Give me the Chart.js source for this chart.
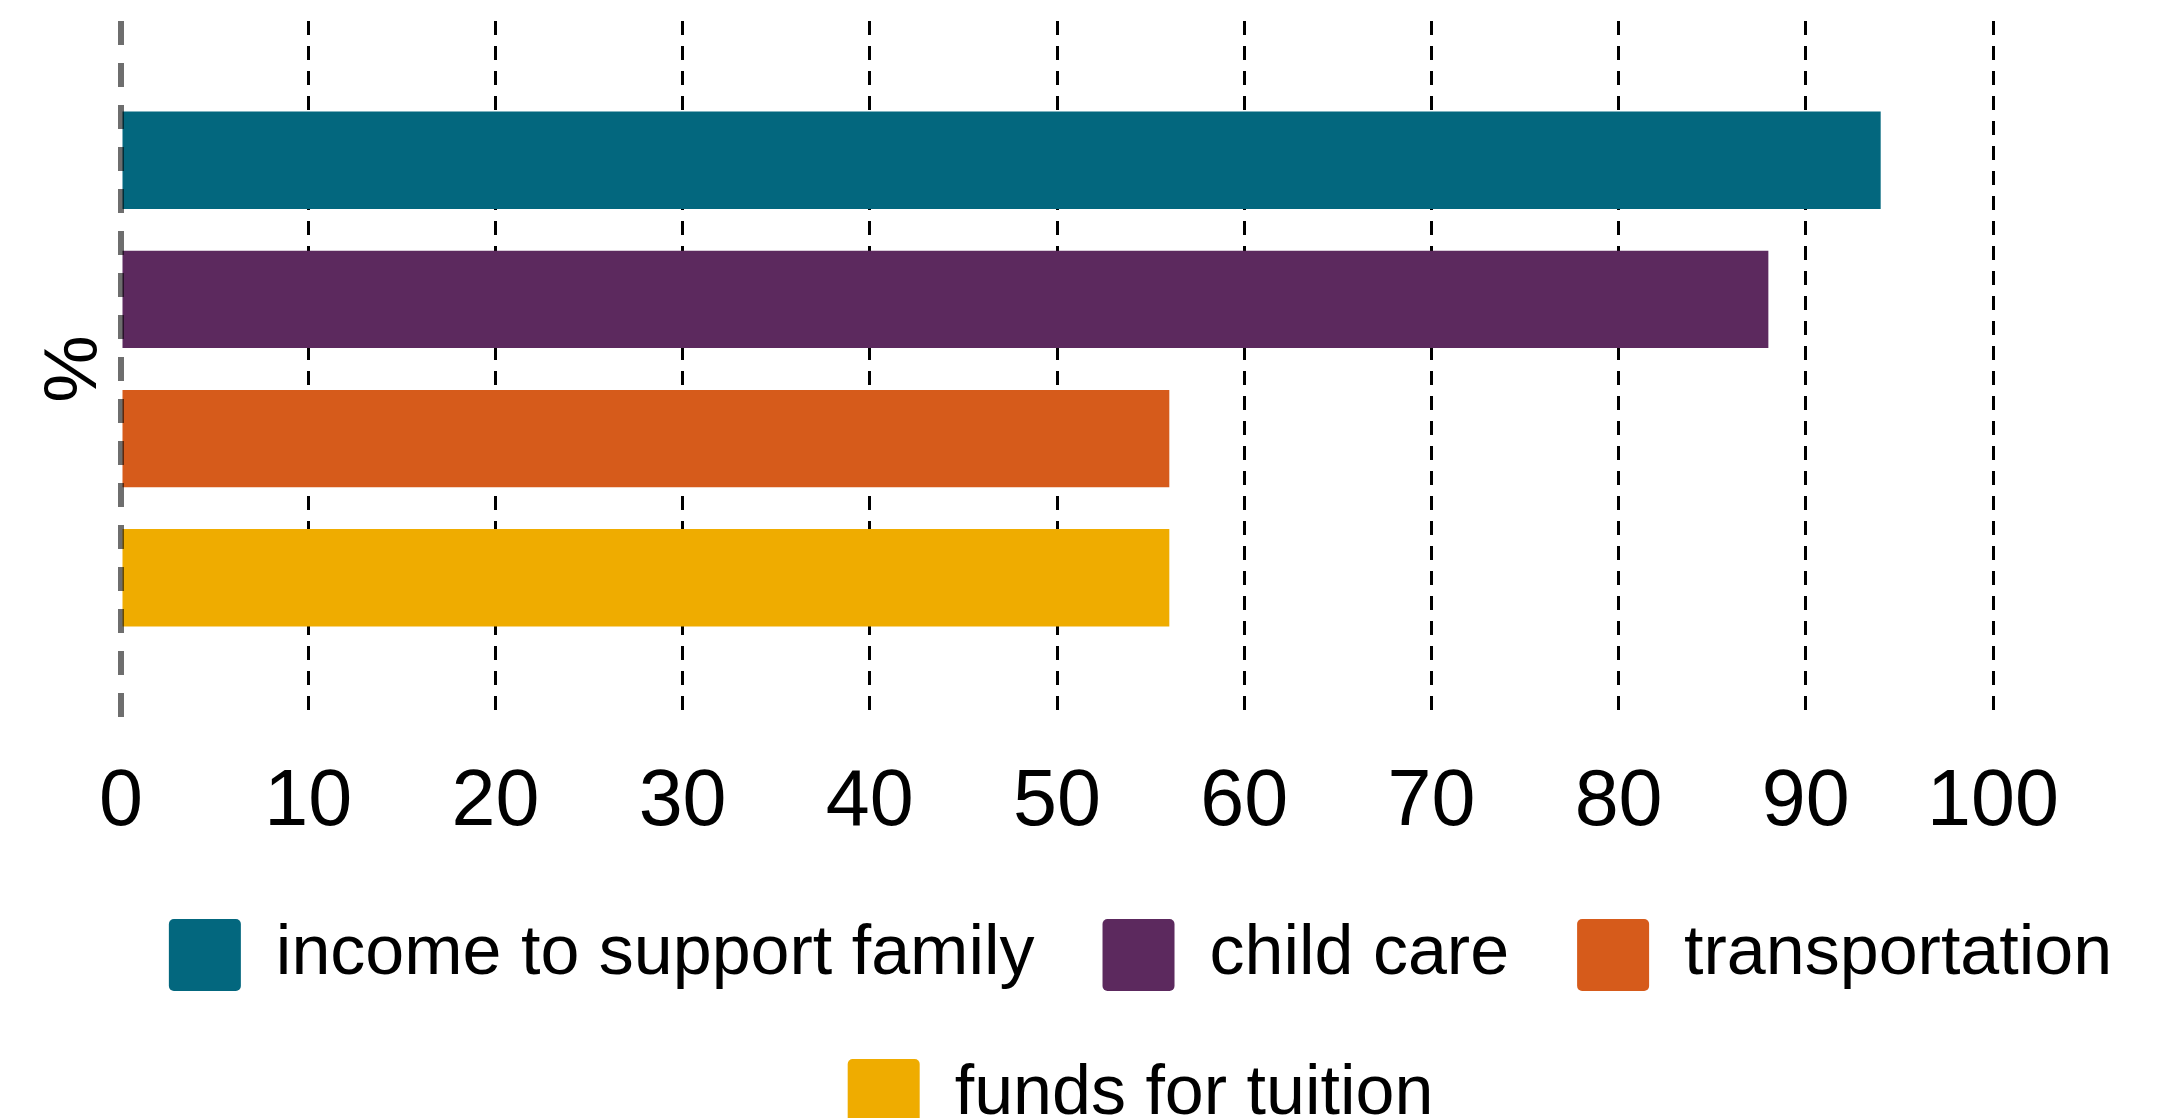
<!DOCTYPE html>
<html>
<head>
<meta charset="utf-8">
<title>Barriers</title>
<script src="https://cdn.jsdelivr.net/npm/chart.js@4"></script>
<style>
  html, body { margin: 0; padding: 0; background: #fff; }
  #wrap { width: 2167px; height: 1118px; position: relative; }
</style>
</head>
<body>
<div id="wrap"><canvas id="barChart"></canvas></div>
<script>
'use strict';
// values
var categories = ['income to support family', 'child care', 'transportation', 'funds for tuition'];
var percentValues = [94, 88, 56, 56];
var barColors = ['#03677e', '#5c295e', '#d65b1b', '#efac00'];
var tickValues = [0, 10, 20, 30, 40, 50, 60, 70, 80, 90, 100];

var fontName = "'Liberation Sans', Arial, sans-serif";

var datasets = [];
for (var i = 0; i < categories.length; i++) {
  datasets.push({
    label: categories[i],
    data: [percentValues[i]],
    backgroundColor: barColors[i],
    borderWidth: 0,
    categoryPercentage: 0.8,
    barPercentage: 0.7
  });
}

// legend in the picture sits a bit right of the middle
var legendShift = {
  id: 'legendShift',
  afterLayout: function(chart) {
    chart.legend.left += 57;
    chart.legend.right += 57;
  }
};

var ctx = document.getElementById('barChart').getContext('2d');
var barChart = new Chart(ctx, {
  type: 'bar',
  data: {
    labels: [''],
    datasets: datasets
  },
  plugins: [legendShift],
  options: {
    indexAxis: 'y',
    responsive: true,
    maintainAspectRatio: false,
    devicePixelRatio: 1,
    animation: false,
    layout: {
      padding: { top: 21, left: 0, right: 0, bottom: -23 }
    },
    plugins: {
      tooltip: { enabled: false },
      legend: {
        position: 'bottom',
        align: 'center',
        labels: {
          boxWidth: 72,
          boxHeight: 72,
          useBorderRadius: true,
          borderRadius: 5,
          padding: 68,
          color: '#000',
          font: { family: fontName, size: 70 }
        }
      }
    },
    scales: {
      x: {
        type: 'linear',
        position: 'bottom',
        min: 0,
        max: 100,
        afterBuildTicks: function(scale) {
          scale.ticks = tickValues.map(function(v) { return { value: v }; });
        },
        afterFit: function(scale) {
          scale.paddingRight = 174;
          scale.height = 134;
        },
        ticks: {
          color: '#000',
          padding: 39,
          font: { family: fontName, size: 79 }
        },
        grid: {
          drawTicks: false,
          lineWidth: 3,
          color: function(c) { return c.index === 0 ? 'rgba(0,0,0,0)' : '#000'; }
        },
        border: { display: false, dash: [14, 11] }
      },
      // only used for the grey zero line, drawn over the bars
      x2: {
        type: 'linear',
        position: 'top',
        min: 0,
        max: 100,
        afterBuildTicks: function(scale) {
          scale.ticks = [{ value: 0 }];
        },
        ticks: { display: false },
        grid: {
          z: 1,
          drawTicks: false,
          lineWidth: 6,
          color: 'rgba(0,0,0,0.57)'
        },
        border: { display: false, dash: [24, 18] }
      },
      y: {
        type: 'category',
        afterFit: function(scale) {
          scale.width = 121;
        },
        ticks: { display: false },
        grid: { display: false, drawTicks: false },
        border: { display: false },
        title: {
          display: true,
          text: '%',
          color: '#000',
          padding: { top: 29, bottom: 0 },
          font: { family: fontName, size: 76 }
        }
      }
    }
  }
});
</script>
</body>
</html>
